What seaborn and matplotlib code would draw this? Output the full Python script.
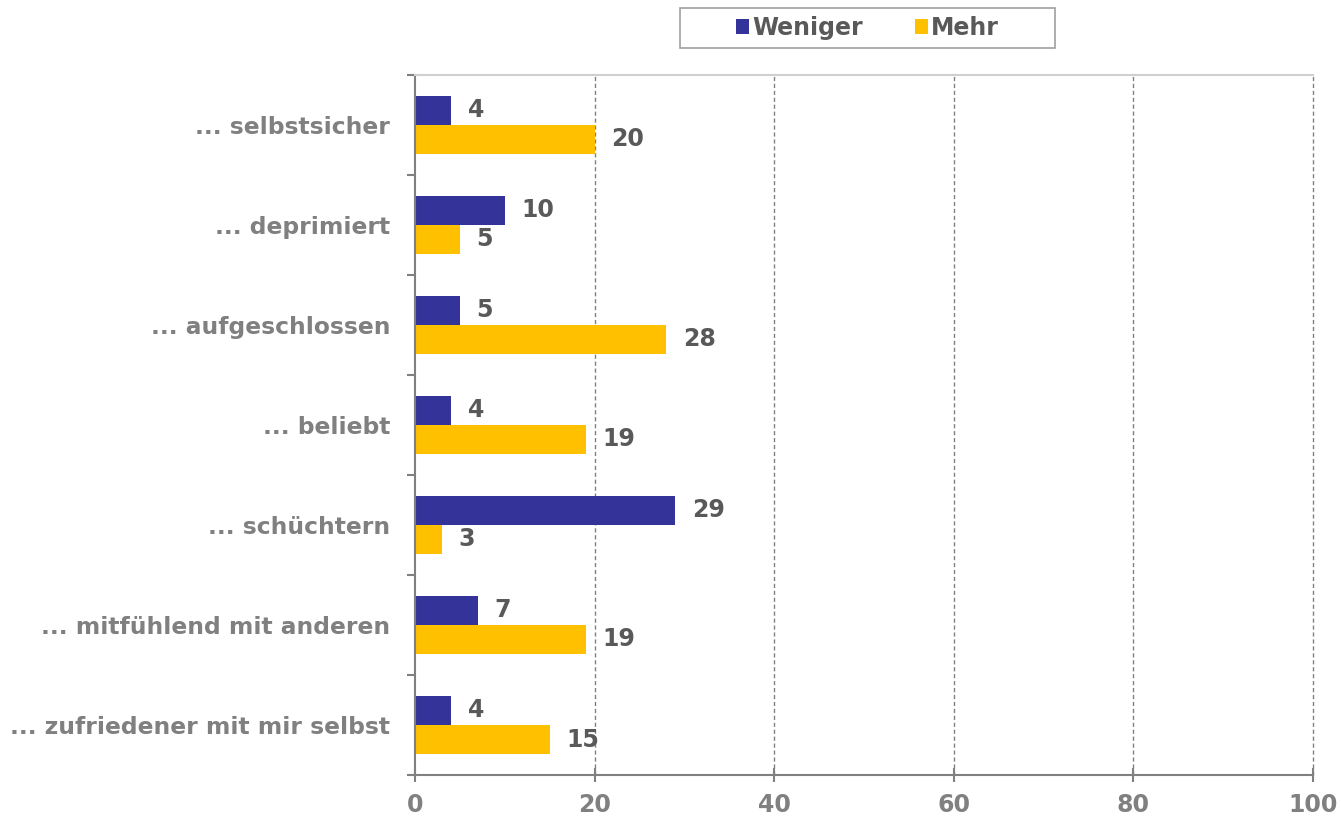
import pandas as pd
import matplotlib.pyplot as plt
import seaborn as sns
from matplotlib.ticker import FixedLocator
from matplotlib.patches import Rectangle

# Daten
kategorien = ['... selbstsicher', '... deprimiert', '... aufgeschlossen', '... beliebt',
              '... schüchtern', '... mitfühlend mit anderen', '... zufriedener mit mir selbst']
weniger = [4, 10, 5, 4, 29, 7, 4]
mehr = [20, 5, 28, 19, 3, 19, 15]
serien = ['Weniger', 'Mehr']
farben = {'Weniger': '#333399', 'Mehr': '#FFC000'}

df = pd.DataFrame({
    'Kategorie': kategorien * 2,
    'Wert': weniger + mehr,
    'Serie': ['Weniger'] * len(kategorien) + ['Mehr'] * len(kategorien),
})

sns.set_style('white')
plt.rcParams['font.family'] = ['DejaVu Sans']

fig = plt.figure(figsize=(13.41, 8.21), dpi=100)
ax = fig.add_axes([0.3095, 0.056, 0.6695, 0.853])

sns.barplot(data=df, y='Kategorie', x='Wert', hue='Serie', hue_order=serien,
            palette=farben, order=kategorien, orient='h', width=0.58,
            gap=0, saturation=1, ax=ax, legend=True, errorbar=None, linewidth=0)

# Wertebeschriftung
for cont in ax.containers:
    ax.bar_label(cont, padding=12, fontsize=17, fontweight='bold', color='#595959')

ax.set_xlim(0, 100)
ax.set_ylim(len(kategorien) - 0.5, -0.5)
ax.set_xticks(range(0, 101, 20))
ax.set_xlabel('')
ax.set_ylabel('')

# Gitter
for x in range(20, 101, 20):
    ax.axvline(x, color='#808080', linestyle=(0, (3, 2)), linewidth=1, zorder=0, clip_on=False)

# Achsen
for s in ['left', 'bottom']:
    ax.spines[s].set_color('#808080')
    ax.spines[s].set_linewidth(1.5)
ax.spines['top'].set_color('#d0d0d0')
ax.spines['top'].set_linewidth(1.5)
ax.spines['right'].set_visible(False)

ax.tick_params(axis='y', which='major', length=0, pad=18, labelsize=16.8, labelcolor='#808080')
ax.yaxis.set_minor_locator(FixedLocator([i - 0.5 for i in range(len(kategorien) + 1)]))
ax.tick_params(axis='y', which='minor', length=6, width=1.5, color='#808080', left=True)
ax.tick_params(axis='x', which='major', direction='inout', length=10, width=1.5,
               color='#808080', pad=8, labelsize=17, labelcolor='#808080', bottom=True)
for lbl in ax.get_yticklabels() + ax.get_xticklabels():
    lbl.set_fontweight('bold')

# Legende
handles, labels = ax.get_legend_handles_labels()
ax.legend(handles, labels, loc='center', bbox_to_anchor=(0.6468, 0.966),
          bbox_transform=fig.transFigure, ncol=2, frameon=False,
          handlelength=0.55, handleheight=0.55, handletextpad=0.15,
          columnspacing=2.2, prop={'weight': 'bold', 'size': 17}, labelcolor='#595959')
fig.patches.append(Rectangle((0.5071, 0.9415), 0.2796, 0.0487, transform=fig.transFigure,
                             fill=False, edgecolor='#a0a0a0', linewidth=1.2))

fig.savefig('out.png', dpi=100)
